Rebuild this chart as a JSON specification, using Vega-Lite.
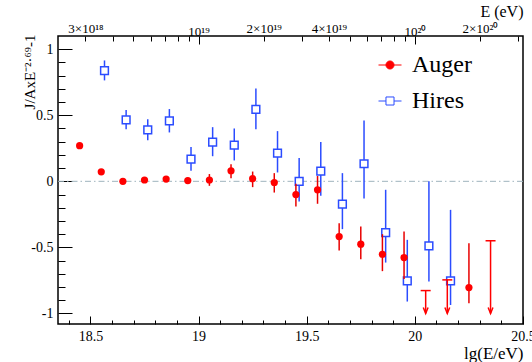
{
  "$schema": "https://vega.github.io/schema/vega-lite/v6.json",
  "width": 465,
  "height": 288,
  "autosize": "none",
  "padding": {"left": 58, "top": 36, "right": 9, "bottom": 38},
  "background": "white",
  "config": {
    "font": "Liberation Serif",
    "view": {"stroke": "black", "strokeWidth": 1.5},
    "axis": {
      "domain": false,
      "grid": false,
      "labelFont": "Liberation Serif",
      "labelColor": "black",
      "tickColor": "black",
      "tickWidth": 1,
      "labelFlush": false,
      "labelOverlap": false,
      "titleFont": "Liberation Serif",
      "titleFontWeight": "normal",
      "titleColor": "black"
    }
  },
  "datasets": {
    "auger": [
      {"lgE": 18.45, "y": 0.27, "lo": 0.255, "hi": 0.285},
      {"lgE": 18.55, "y": 0.072, "lo": 0.06, "hi": 0.085},
      {"lgE": 18.65, "y": 0.0, "lo": -0.01, "hi": 0.01},
      {"lgE": 18.75, "y": 0.01, "lo": -0.005, "hi": 0.025},
      {"lgE": 18.85, "y": 0.017, "lo": 0.0, "hi": 0.035},
      {"lgE": 18.95, "y": 0.006, "lo": -0.015, "hi": 0.027},
      {"lgE": 19.05, "y": 0.01, "lo": -0.034, "hi": 0.055},
      {"lgE": 19.15, "y": 0.08, "lo": 0.024, "hi": 0.13},
      {"lgE": 19.25, "y": 0.02, "lo": -0.044, "hi": 0.074},
      {"lgE": 19.35, "y": -0.009, "lo": -0.085, "hi": 0.062},
      {"lgE": 19.45, "y": -0.1, "lo": -0.19, "hi": -0.019},
      {"lgE": 19.55, "y": -0.064, "lo": -0.17, "hi": 0.04},
      {"lgE": 19.65, "y": -0.418, "lo": -0.524, "hi": -0.317},
      {"lgE": 19.75, "y": -0.476, "lo": -0.59, "hi": -0.342},
      {"lgE": 19.85, "y": -0.552, "lo": -0.68, "hi": -0.4},
      {"lgE": 19.95, "y": -0.577, "lo": -0.74, "hi": -0.38},
      {"lgE": 20.25, "y": -0.804, "lo": -0.923, "hi": -0.468}
    ],
    "limits": [
      {"lgE": 20.05, "ul": -0.827},
      {"lgE": 20.15, "ul": -0.746},
      {"lgE": 20.35, "ul": -0.45}
    ],
    "hires": [
      {"lgE": 18.565, "y": 0.837, "lo": 0.764, "hi": 0.915},
      {"lgE": 18.665, "y": 0.466, "lo": 0.395, "hi": 0.54},
      {"lgE": 18.765, "y": 0.39, "lo": 0.31, "hi": 0.47},
      {"lgE": 18.865, "y": 0.458, "lo": 0.37, "hi": 0.547},
      {"lgE": 18.965, "y": 0.168, "lo": 0.08, "hi": 0.26},
      {"lgE": 19.065, "y": 0.297, "lo": 0.19, "hi": 0.41},
      {"lgE": 19.165, "y": 0.274, "lo": 0.158, "hi": 0.4},
      {"lgE": 19.265, "y": 0.544, "lo": 0.395, "hi": 0.703},
      {"lgE": 19.365, "y": 0.213, "lo": 0.067, "hi": 0.38},
      {"lgE": 19.465, "y": 0.0, "lo": -0.153, "hi": 0.176},
      {"lgE": 19.565, "y": 0.077, "lo": -0.11, "hi": 0.297},
      {"lgE": 19.665, "y": -0.173, "lo": -0.362, "hi": 0.062},
      {"lgE": 19.765, "y": 0.133, "lo": -0.13, "hi": 0.46},
      {"lgE": 19.865, "y": -0.388, "lo": -0.615, "hi": -0.064},
      {"lgE": 19.965, "y": -0.754, "lo": -0.91, "hi": -0.443},
      {"lgE": 20.065, "y": -0.489, "lo": -0.759, "hi": 0.0},
      {"lgE": 20.165, "y": -0.754, "lo": -0.936, "hi": -0.216}
    ],
    "reference": [
      {"ref": 0}
    ],
    "legend": [
      {"series": "Auger"},
      {"series": "Hires"}
    ]
  },
  "layer": [
    {
      "data": {"name": "reference"},
      "mark": {"type": "rule", "stroke": "#9fb3bd", "strokeWidth": 1, "strokeDash": [6, 3, 1.5, 3]},
      "encoding": {
        "y": {
          "field": "ref",
          "type": "quantitative",
          "scale": {"domain": [-1.08, 1.1], "nice": false, "zero": false},
          "axis": {
            "orient": "left",
            "offset": -14,
            "tickSize": 14,
            "values": [-1, -0.5, 0, 0.5, 1],
            "labelExpr": "'' + datum.value",
            "labelFontSize": 14,
            "labelPadding": 5,
            "title": "J/AxE⁻²·⁶⁹-1",
            "titleFontSize": 15,
            "titleAngle": 270,
            "titleAlign": "right",
            "titleBaseline": "alphabetic",
            "titleX": -38,
            "titleY": -2
          }
        }
      }
    },
    {
      "data": {"name": "hires"},
      "mark": {"type": "rule", "stroke": "#2b4cff", "strokeWidth": 1.5},
      "encoding": {
        "x": {
          "field": "lgE",
          "type": "quantitative",
          "scale": {"domain": [18.35, 20.5], "nice": false, "zero": false},
          "axis": {
            "orient": "top",
            "offset": -5,
            "tickSize": 5,
            "values": [18.4771, 18.6021, 18.699, 18.7782, 18.8451, 18.9031, 18.9542, 19.301, 19.4771, 19.6021, 19.699, 19.7782, 19.8451, 19.9031, 19.9542, 20.301, 20.4771],
            "labelExpr": "abs(datum.value-18.4771)<0.001 ? '3×10¹⁸' : abs(datum.value-19.301)<0.001 ? '2×10¹⁹' : abs(datum.value-19.6021)<0.001 ? '4×10¹⁹' : abs(datum.value-20.301)<0.001 ? '2×10²⁰' : ''",
            "labelFontSize": 13,
            "labelPadding": 0.5,
            "title": "E (eV)",
            "titleFontSize": 16,
            "titleAlign": "right",
            "titleBaseline": "alphabetic",
            "titleX": 465,
            "titleY": -25
          }
        },
        "y": {
          "field": "lo",
          "type": "quantitative",
          "scale": {"domain": [-1.08, 1.1], "nice": false, "zero": false},
          "axis": {
            "orient": "left",
            "offset": -7,
            "tickSize": 7,
            "values": [-0.9, -0.8, -0.7, -0.6, -0.4, -0.3, -0.2, -0.1, 0.1, 0.2, 0.3, 0.4, 0.6, 0.7, 0.8, 0.9],
            "labels": false,
            "title": null
          }
        },
        "y2": {"field": "hi"}
      }
    },
    {
      "data": {"name": "hires"},
      "mark": {"type": "point", "shape": "square", "filled": true, "fill": "white", "stroke": "#2b4cff", "strokeWidth": 1.5, "size": 60, "opacity": 1},
      "encoding": {
        "x": {
          "field": "lgE",
          "type": "quantitative",
          "scale": {"domain": [18.35, 20.5], "nice": false, "zero": false},
          "axis": {
            "orient": "top",
            "offset": -8,
            "tickSize": 8,
            "values": [19, 20],
            "labelExpr": "datum.value == 19 ? '10¹⁹' : '10²⁰'",
            "labelFontSize": 13,
            "labelPadding": -2.5,
            "title": null
          }
        },
        "y": {"field": "y", "type": "quantitative", "scale": {"domain": [-1.08, 1.1], "nice": false, "zero": false}, "axis": null}
      }
    },
    {
      "data": {"name": "auger"},
      "mark": {"type": "rule", "stroke": "#e80000", "strokeWidth": 1.5},
      "encoding": {
        "x": {
          "field": "lgE",
          "type": "quantitative",
          "scale": {"domain": [18.35, 20.5], "nice": false, "zero": false},
          "axis": {
            "orient": "bottom",
            "offset": -8,
            "tickSize": 8,
            "values": [18.5, 19, 19.5, 20, 20.5],
            "labelExpr": "'' + datum.value",
            "labelFontSize": 14,
            "labelPadding": 5,
            "title": "lg(E/eV)",
            "titleFontSize": 17,
            "titleAlign": "right",
            "titleBaseline": "alphabetic",
            "titleX": 465,
            "titleY": 42
          }
        },
        "y": {"field": "lo", "type": "quantitative", "scale": {"domain": [-1.08, 1.1], "nice": false, "zero": false}, "axis": null},
        "y2": {"field": "hi"}
      }
    },
    {
      "data": {"name": "auger"},
      "mark": {"type": "circle", "fill": "#ff0000", "size": 52, "opacity": 1},
      "encoding": {
        "x": {
          "field": "lgE",
          "type": "quantitative",
          "scale": {"domain": [18.35, 20.5], "nice": false, "zero": false},
          "axis": {
            "orient": "bottom",
            "offset": -4,
            "tickSize": 4,
            "values": [18.4, 18.6, 18.7, 18.8, 18.9, 19.1, 19.2, 19.3, 19.4, 19.6, 19.7, 19.8, 19.9, 20.1, 20.2, 20.3, 20.4],
            "labels": false,
            "title": null
          }
        },
        "y": {"field": "y", "type": "quantitative", "scale": {"domain": [-1.08, 1.1], "nice": false, "zero": false}, "axis": null}
      }
    },
    {
      "data": {"name": "limits"},
      "mark": {"type": "rule", "stroke": "#ff0000", "strokeWidth": 1.5},
      "encoding": {
        "x": {"field": "lgE", "type": "quantitative", "scale": {"domain": [18.35, 20.5], "nice": false, "zero": false}, "axis": null},
        "y": {"field": "ul", "type": "quantitative", "scale": {"domain": [-1.08, 1.1], "nice": false, "zero": false}, "axis": null},
        "y2": {"datum": -1}
      }
    },
    {
      "data": {"name": "limits"},
      "mark": {"type": "point", "shape": "M-1,0L1,0", "filled": false, "stroke": "#ff0000", "strokeWidth": 1.5, "size": 100, "opacity": 1},
      "encoding": {
        "x": {"field": "lgE", "type": "quantitative", "scale": {"domain": [18.35, 20.5], "nice": false, "zero": false}, "axis": null},
        "y": {"field": "ul", "type": "quantitative", "scale": {"domain": [-1.08, 1.1], "nice": false, "zero": false}, "axis": null}
      }
    },
    {
      "data": {"name": "limits"},
      "mark": {"type": "point", "shape": "M-0.8,-2L0,0L0.8,-2", "filled": false, "stroke": "#ff0000", "strokeWidth": 1.5, "size": 36, "opacity": 1},
      "encoding": {
        "x": {"field": "lgE", "type": "quantitative", "scale": {"domain": [18.35, 20.5], "nice": false, "zero": false}, "axis": null},
        "y": {"datum": -1, "type": "quantitative", "scale": {"domain": [-1.08, 1.1], "nice": false, "zero": false}, "axis": null}
      }
    },
    {
      "data": {"name": "legend"},
      "mark": {"type": "point", "opacity": 0, "strokeWidth": 1},
      "encoding": {
        "shape": {
          "field": "series",
          "type": "nominal",
          "scale": {"domain": ["Auger", "Hires"], "range": ["M-1,0L1,0M0.35,0A0.35,0.35,0,1,1,-0.35,0A0.35,0.35,0,1,1,0.35,0Z", "M-1,0L-0.35,0M0.35,0L1,0M-0.35,-0.35L0.35,-0.35L0.35,0.35L-0.35,0.35Z"]},
          "legend": {
            "orient": "none",
            "legendX": 320,
            "legendY": 17,
            "title": null,
            "padding": 0,
            "labelFont": "Liberation Serif",
            "labelFontSize": 24,
            "labelColor": "black",
            "labelOffset": 10,
            "rowPadding": 12,
            "symbolSize": 529,
            "symbolStrokeWidth": 1,
            "symbolOpacity": 1
          }
        },
        "fill": {"field": "series", "type": "nominal", "scale": {"domain": ["Auger", "Hires"], "range": ["#ff0000", "#ffffff"]}},
        "stroke": {"field": "series", "type": "nominal", "scale": {"domain": ["Auger", "Hires"], "range": ["#ff0000", "#2b4cff"]}}
      }
    }
  ],
  "resolve": {"axis": {"x": "independent", "y": "independent"}}
}
